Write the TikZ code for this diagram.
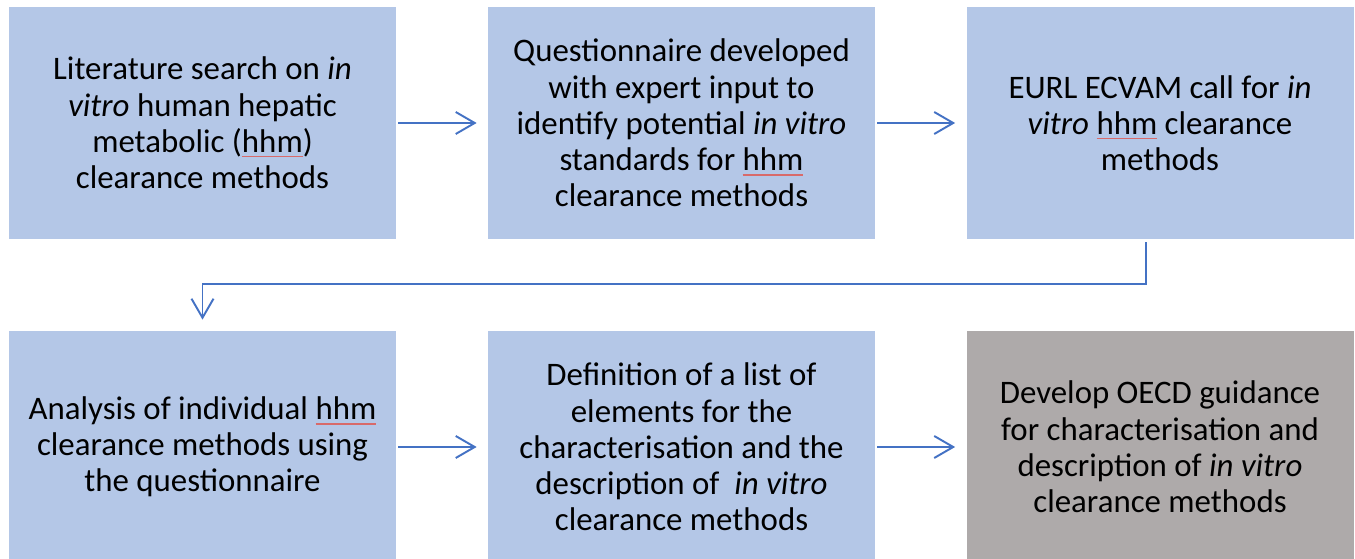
\documentclass[tikz,border=0pt]{standalone}
\usepackage{fontspec}
\setmainfont{Carlito}
\usepackage{tikz}
\usetikzlibrary{arrows.meta,positioning}

\definecolor{stepblue}{HTML}{B4C7E7}
\definecolor{stepgrey}{HTML}{AEAAAA}
\definecolor{arrowblue}{HTML}{4472C4}
\definecolor{spellred}{HTML}{D86A6A}

% thin red mark under flagged words
\newcommand{\spell}[1]{\setbox0\hbox{#1}%
  \rlap{\textcolor{spellred}{\rule[-0.32ex]{\wd0}{0.9pt}}}\box0\relax}

\begin{document}
\begin{tikzpicture}[
  box/.style={fill=stepblue, minimum width=7.74cm, minimum height=4.64cm,
              align=center, inner sep=0pt,
              font=\fontsize{18.7}{20.6}\selectfont},
  arr/.style={-{Straight Barb[length=3.8mm,width=4.4mm]}, arrowblue,
              line width=1.1pt, shorten <=0.04cm, shorten >=0.22cm}
]
  \useasboundingbox (0,0) rectangle (27.1,11.18);

  % top row
  \node[box] (search) at (4.05,8.72)
    {Literature search on \textit{in}\\
     \textit{vitro} human hepatic\\
     metabolic (\spell{hhm})\\
     clearance methods};
  \node[box] (quest) at (13.63,8.72)
    {Questionnaire developed\\
     with expert input to\\
     identify potential \textit{in vitro}\\
     standards for \spell{hhm}\\
     clearance methods};
  \node[box] (call) at (23.2,8.72)
    {EURL ECVAM call for \textit{in}\\
     \textit{vitro} \spell{hhm} clearance\\
     methods};

  % bottom row
  \node[box] (analysis) at (4.05,2.24)
    {Analysis of individual \spell{hhm}\\
     clearance methods using\\
     the questionnaire};
  \node[box] (define) at (13.63,2.24)
    {Definition of a list of\\
     elements for the\\
     characterisation and the\\
     description of \ \textit{in vitro}\\
     clearance methods};
  \node[box, fill=stepgrey] (oecd) at (23.2,2.24)
    {Develop OECD guidance\\
     for characterisation and\\
     description of \textit{in vitro}\\
     clearance methods};

  % flow
  \draw[arr] (search) -- (quest);
  \draw[arr] (quest) -- (call);
  \draw[arr, shorten <=0.06cm] ([xshift=-0.28cm]call.south) -- ++(0,-0.9) -| (analysis.north);
  \draw[arr] (analysis) -- (define);
  \draw[arr] (define) -- (oecd);
\end{tikzpicture}
\end{document}
